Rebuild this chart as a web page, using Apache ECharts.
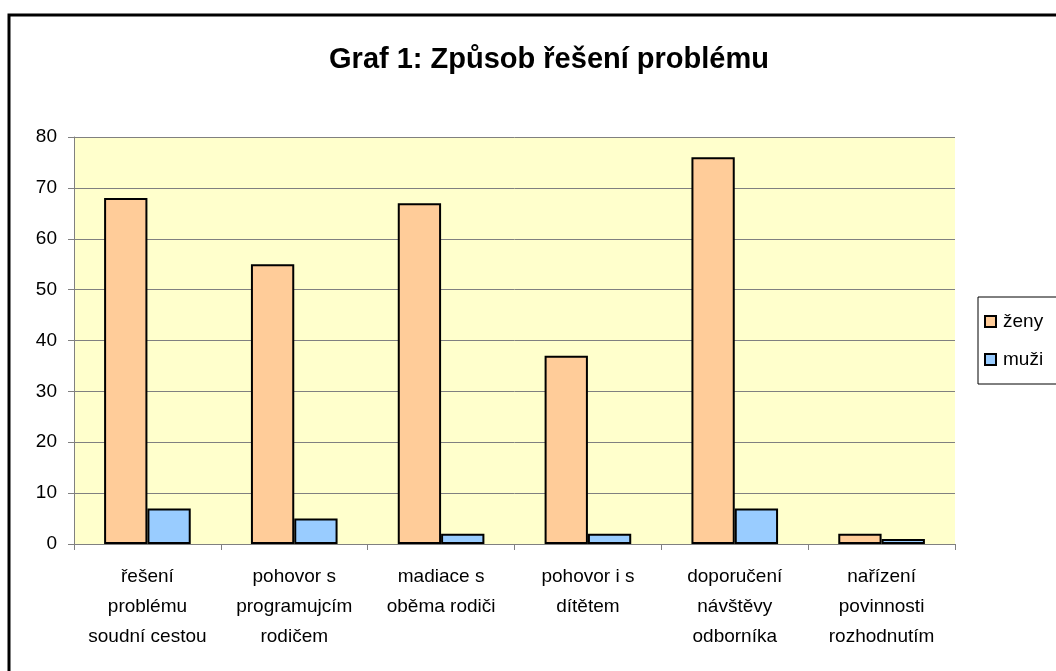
<!DOCTYPE html>
<html>
<head>
<meta charset="utf-8">
<script src="https://cdn.jsdelivr.net/npm/echarts@6/dist/echarts.min.js"></script>
<style>
  html, body { margin: 0; padding: 0; background: #fff; }
  #chart { width: 1056px; height: 671px; }
</style>
</head>
<body>
<div id="chart"></div>
<script>
// categories and values
var categories = [
    'řešení\nproblému\nsoudní cestou',
    'pohovor s\nprogramujcím\nrodičem',
    'madiace s\noběma rodiči',
    'pohovor i s\ndítětem',
    'doporučení\nnávštěvy\nodborníka',
    'nařízení\npovinnosti\nrozhodnutím'
];
var zeny = [68, 55, 67, 37, 76, 2];
var muzi = [7, 5, 2, 2, 7, 1];

var FONT = '"Liberation Sans", Arial, sans-serif';

var chart = echarts.init(document.getElementById('chart'));

chart.setOption({
    animation: false,
    textStyle: { fontFamily: FONT, color: '#000' },
    title: {
        text: 'Graf 1: Způsob řešení problému',
        left: 544,
        top: 40,
        textAlign: 'center',
        textStyle: { fontFamily: FONT, fontSize: 29, fontWeight: 'bold', color: '#000' }
    },
    // outer chart-area frame
    graphic: [{
        type: 'rect',
        shape: { x: 9, y: 15, width: 1200, height: 800 },
        style: { fill: 'none', stroke: '#000', lineWidth: 3 },
        silent: true
    }],
    // legend box runs past the right edge, like in the source
    legend: {
        orient: 'vertical',
        left: 978,
        top: 297,
        padding: [15, 20, 15, 6],
        itemGap: 19,
        itemWidth: 11,
        itemHeight: 11,
        icon: 'rect',
        borderColor: '#000',
        borderWidth: 1,
        textStyle: { fontFamily: FONT, fontSize: 19, color: '#000', padding: [0, 0, 0, 2] },
        data: ['ženy', 'muži']
    },
    grid: {
        left: 74,
        right: 101,
        top: 137,
        bottom: 127,
        show: true,
        backgroundColor: '#FFFFCC',
        borderWidth: 0
    },
    xAxis: {
        type: 'category',
        data: categories,
        axisLine: { lineStyle: { color: '#808080', width: 1 } },
        axisTick: { show: true, length: 6, lineStyle: { color: '#808080' } },
        axisLabel: {
            interval: 0,
            fontSize: 19,
            lineHeight: 30,
            color: '#000',
            margin: 18
        }
    },
    yAxis: {
        type: 'value',
        min: 0,
        max: 80,
        interval: 10,
        axisLine: { show: true, lineStyle: { color: '#808080', width: 1 } },
        axisTick: { show: true, length: 6, lineStyle: { color: '#808080' } },
        splitLine: { lineStyle: { color: '#808080', width: 1 } },
        axisLabel: { fontSize: 19, color: '#000', margin: 17 }
    },
    series: [{
        name: 'ženy',
        type: 'bar',
        data: zeny,
        barGap: '0%',
        barCategoryGap: '41%',
        itemStyle: { color: '#FFCC99', borderColor: '#000', borderWidth: 2 }
    }, {
        name: 'muži',
        type: 'bar',
        data: muzi,
        itemStyle: { color: '#99CCFF', borderColor: '#000', borderWidth: 2 }
    }]
});
</script>
</body>
</html>
